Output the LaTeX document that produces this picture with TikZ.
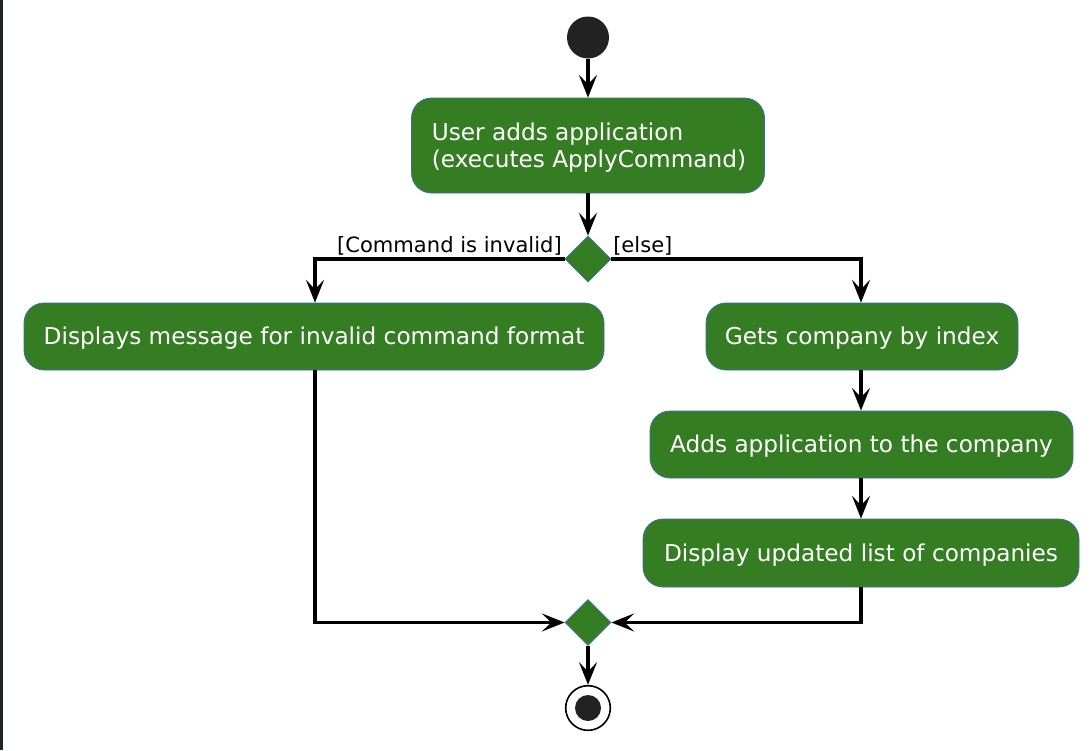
\documentclass[tikz,border=0pt]{standalone}
\usepackage{fontspec}
\setmainfont{DejaVu Sans}
\usetikzlibrary{shapes.geometric,arrows.meta}
\definecolor{actgreen}{RGB}{53,125,34}
\definecolor{actborder}{RGB}{60,110,165}
\definecolor{startfill}{RGB}{34,34,34}
\definecolor{frameline}{RGB}{30,36,40}
\newcommand\boxtext[1]{\raisebox{-2.2pt}[\height][\depth]{\begin{tabular}{@{}l@{}}#1\end{tabular}}}
\tikzset{
  actbox/.style={draw=actborder, line width=0.6pt, fill=actgreen, rounded corners=15pt,
    inner sep=0pt, text=white, font=\fontsize{17.4}{20.25}\selectfont},
  decision/.style={diamond, draw=actborder, line width=0.6pt, fill=actgreen, inner sep=0pt,
    minimum width=34.5pt, minimum height=34.5pt},
  flow/.style={line width=2.5pt, draw=black, -{Stealth[length=17pt,width=13.5pt,inset=7pt]}},
  guard/.style={font=\fontsize{15.8}{18}\selectfont, inner sep=0pt}
}
\begin{document}
\begin{tikzpicture}[x=0.75pt,y=-0.75pt]
\useasboundingbox (0,0) rectangle (1092,750);
\fill[white] (0,0) rectangle (1092,750);
\fill[frameline] (0,0) rectangle (2.5,750);

\node[circle, fill=startfill, minimum size=31.5pt, inner sep=0pt] (start) at (588,37.5) {};
\node[actbox, minimum width=264.75pt, minimum height=71.25pt] (b1) at (588,145.5)
  {\hspace*{1.5pt}\boxtext{User adds application\\(executes ApplyCommand)}};
\node[decision] (d1) at (588,259) {};
\node[actbox, minimum width=435pt, minimum height=50.25pt] (b2) at (314,336.5)
  {\boxtext{Displays message for invalid command format}};
\node[actbox, minimum width=234pt, minimum height=50.25pt] (b3) at (862,336.5)
  {\boxtext{Gets company by index}};
\node[actbox, minimum width=317.25pt, minimum height=50.25pt] (b4) at (861.5,444.5)
  {\boxtext{Adds application to the company}};
\node[actbox, minimum width=327pt, minimum height=51pt] (b5) at (861,553)
  {\boxtext{Display updated list of companies}};
\node[decision] (d2) at (588,622.5) {};
\node[circle, draw=black, line width=1.2pt, fill=white, minimum size=33.5pt, inner sep=0pt] (end) at (588,708) {};
\node[circle, fill=startfill, minimum size=19.5pt, inner sep=0pt] (endin) at (end.center) {};

\node[guard, anchor=base east] (g1) at (562,252) {[Command is invalid]};
\node[guard, anchor=base west] (g2) at (613,252) {[else]};

\draw[flow] (start.south) -- (b1.north);
\draw[flow] (b1.south) -- (d1.north);
\draw[flow] (d1.west) -- (d1.west -| 315,0) -- (315,0 |- b2.north);
\draw[flow] (d1.east) -- (d1.east -| 861,0) -- (861,0 |- b3.north);
\draw[flow] (861,0 |- b3.south) -- (861,0 |- b4.north);
\draw[flow] (861,0 |- b4.south) -- (861,0 |- b5.north);
\draw[flow] (315,0 |- b2.south) -- (315,0 |- d2.west) -- (d2.west);
\draw[flow] (861,0 |- b5.south) -- (861,0 |- d2.east) -- (d2.east);
\draw[flow] (d2.south) -- (end.north);
\end{tikzpicture}
\end{document}
